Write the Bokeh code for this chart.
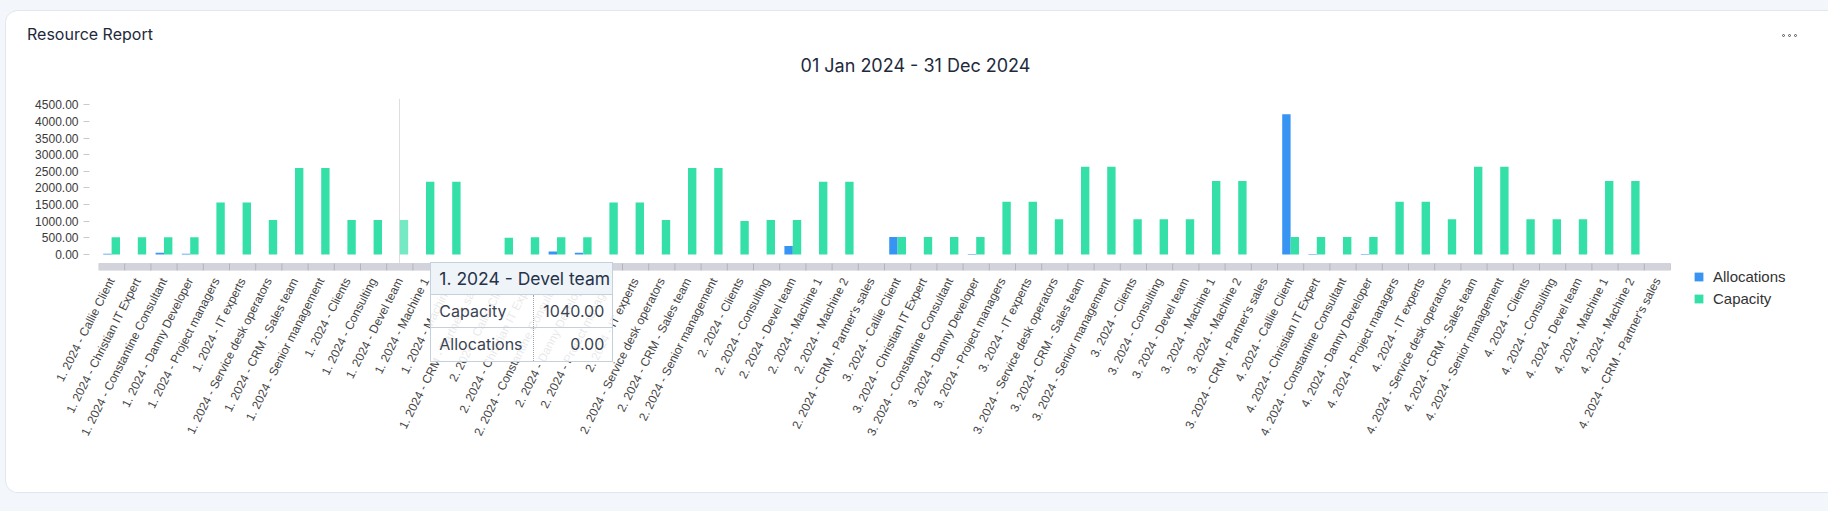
from bokeh.plotting import figure
from bokeh.models import (ColumnDataSource, FactorRange, Range1d, CategoricalAxis, Column, Div,
                          FixedTicker, NumeralTickFormatter, Legend, LegendItem)
from bokeh.transform import dodge
from bokeh.embed import file_html
from bokeh.resources import INLINE

# ---------------- data ----------------
report_title = "Resource Report"
period_label = "01 Jan 2024 - 31 Dec 2024"
quarters = ["1. 2024", "2. 2024", "3. 2024", "4. 2024"]
resources = ["Callie Client", "Christian IT Expert", "Constantine Consultant", "Danny Developer",
             "Project managers", "IT experts", "Service desk operators", "CRM - Sales team",
             "Senior management", "Clients", "Consulting", "Devel team", "Machine 1", "Machine 2",
             "CRM - Partner's sales"]
categories = [f"{q} - {r}" for q in quarters for r in resources]

capacity_q1 = [520, 520, 520, 520, 1560, 1560, 1040, 2600, 2600, 1040, 1040, 1040, 2184, 2184, 0]
capacity_q2 = [500, 520, 520, 520, 1560, 1560, 1040, 2600, 2600, 1010, 1040, 1040, 2184, 2184, 0]
capacity_q3 = [528, 528, 528, 528, 1584, 1584, 1056, 2640, 2640, 1056, 1056, 1056, 2208, 2208, 0]
capacity_q4 = [528, 528, 528, 528, 1584, 1584, 1056, 2640, 2640, 1056, 1056, 1056, 2208, 2208, 0]
allocations_q1 = [24, 0, 56, 24, 0, 0, 0, 0, 0, 0, 0, 0, 0, 0, 0]
allocations_q2 = [0, 0, 88, 56, 0, 0, 0, 0, 0, 0, 0, 256, 0, 0, 0]
allocations_q3 = [528, 0, 0, 16, 0, 0, 0, 0, 0, 0, 0, 0, 0, 0, 0]
allocations_q4 = [4216, 16, 0, 16, 0, 0, 0, 0, 0, 0, 0, 0, 0, 0, 0]
capacity = capacity_q1 + capacity_q2 + capacity_q3 + capacity_q4
allocations = allocations_q1 + allocations_q2 + allocations_q3 + allocations_q4

series = ["Allocations", "Capacity"]
y_ticks = [0, 500, 1000, 1500, 2000, 2500, 3000, 3500, 4000, 4500]
hover_category = "1. 2024 - Devel team"

# ---------------- styling ----------------
BLUE = "#3894f3"
GREEN = "#35e0a8"
GREEN_HOVER = "#74e9c4"
BAND = "#d3d3dc"
BAND_SEP = "#b3b3be"
AXIS_FONT = "Liberation Sans"
UI_FONT = "Inter"

W, H = 1809, 481
FL, FT = 92, 87                 # frame left / top inside the card
FW, FH = 1572, 172
n = len(categories)
Y0, Y1 = -481, 4689
uy = (Y1 - Y0) / FH             # data units per pixel (vertical)
BAND_TOP = -9 * uy              # grey strip starts 9px under the zero line

cap_colors = [GREEN_HOVER if c == hover_category else GREEN for c in categories]
src = ColumnDataSource(dict(category=categories, alloc=allocations, cap=capacity, cap_color=cap_colors))

p = figure(x_range=FactorRange(factors=categories, range_padding=0), y_range=Range1d(Y0, Y1),
           frame_width=FW, frame_height=FH,
           min_border_left=FL, min_border_right=W - FL - FW, min_border_top=FT,
           min_border_bottom=H - FT - FH,
           output_backend="svg", toolbar_location=None, x_axis_location=None, title=None)
p.styles = {"border-radius": "12px", "overflow": "hidden",
            "box-shadow": "0 0 0 1px #e1e7ef, 0 0 0 40px #f3f7fb"}
p.background_fill_color = "white"
p.border_fill_color = "white"
p.outline_line_color = None
p.xgrid.grid_line_color = None
p.ygrid.grid_line_color = None

# y axis
yax = p.yaxis[0]
yax.ticker = FixedTicker(ticks=y_ticks)
yax.formatter = NumeralTickFormatter(format="0.00")
yax.axis_line_color = None
yax.major_tick_line_color = "#c9c9c9"
yax.major_tick_in = -9
yax.major_tick_out = 15
yax.minor_tick_line_color = None
yax.major_label_standoff = 5
yax.major_label_text_font = AXIS_FONT
yax.major_label_text_font_size = "12px"
yax.major_label_text_color = "#3a3a3a"

xax = CategoricalAxis(axis_line_color=None, major_tick_line_color=None,
                      major_label_orientation=1.1, major_label_standoff=2,
                      major_label_text_font=AXIS_FONT, major_label_text_font_size="12px",
                      major_label_text_color="#444444")
p.add_layout(xax, "below")

# crosshair
p.vspan(x=[hover_category], line_color="#dedede", line_width=1)

# grey strip with separators between categories
p.vbar(x="category", top=BAND_TOP, bottom=Y0, width=1.0, source=src,
       fill_color=BAND, line_color=BAND)
p.segment(x0=dodge("category", 0.5, range=p.x_range), y0=BAND_TOP,
          x1=dodge("category", 0.5, range=p.x_range), y1=Y0, source=src,
          line_color=BAND_SEP, line_width=1)

# bars
r_alloc = p.vbar(x=dodge("category", -0.16, range=p.x_range), top="alloc", width=0.32,
                 source=src, fill_color=BLUE, line_color=None)
r_cap = p.vbar(x=dodge("category", 0.16, range=p.x_range), top="cap", width=0.32,
               source=src, fill_color="cap_color", line_color=None)

legend = Legend(items=[LegendItem(label=series[0], renderers=[r_alloc]),
                       LegendItem(label=series[1], renderers=[r_cap], index=0)],
                location=(23, -38), orientation="vertical",
                glyph_width=11, glyph_height=11, label_height=20, label_standoff=9,
                spacing=2, padding=0, margin=0, border_line_color=None,
                background_fill_alpha=0, label_text_font=AXIS_FONT,
                label_text_font_size="15px", label_text_color="#333333")
p.add_layout(legend, "right")

# ---------------- overlay: card header texts and hover tooltip (HTML) ----------------
h = categories.index(hover_category)
hx = FL + FW / n * (h + 0.5)     # pixel centre of the hovered category
zy = FT + Y1 / uy                # pixel row of the zero line
tip_left, tip_top = hx + 26, zy + 8
TT_LINE = "#c3d0dd"

dot = ("display:inline-block;width:3px;height:3px;border:1.5px solid #555;"
       "border-radius:50%;margin-right:3px;")
cell_l = (f"width:103px;box-sizing:border-box;padding-left:8px;"
          f"border-right:1px dotted #9aa4b0;")
cell_r = "flex:1;text-align:right;padding-right:8px;"
rows_html = ""
row_defs = [(series[1], capacity[h], True), (series[0], allocations[h], False)]
for name, val, line in row_defs:
    bb = f"border-bottom:1px solid {TT_LINE};" if line else ""
    rows_html += (f'<div style="display:flex;height:33px;line-height:33px;box-sizing:border-box;{bb}">'
                  f'<div style="{cell_l}">{name}</div><div style="{cell_r}">{val:.2f}</div></div>')

html = f"""
<div style="position:relative;width:{W}px;height:{H}px;font-family:{UI_FONT};">
  <div style="position:absolute;left:16px;top:12px;line-height:22px;font-size:16px;color:#1e293b;white-space:nowrap;">{report_title}</div>
  <div style="position:absolute;left:0px;top:43px;width:{W}px;text-align:center;line-height:24px;font-size:18px;color:#1e2a3c;white-space:nowrap;">{period_label}</div>
  <div style="position:absolute;left:1771px;top:19px;line-height:6px;white-space:nowrap;"><span style="{dot}"></span><span style="{dot}"></span><span style="{dot}"></span></div>
  <div style="position:absolute;left:{tip_left:.1f}px;top:{tip_top:.1f}px;width:183px;border:1px solid {TT_LINE};background:rgba(255,255,255,0.88);color:#3a4352;font-size:16px;white-space:nowrap;">
    <div style="height:32px;line-height:32px;box-sizing:border-box;padding-left:8px;background:rgba(238,243,249,0.95);font-size:17.5px;color:#26324a;border-bottom:1px solid {TT_LINE};">{hover_category}</div>
    {rows_html}
  </div>
</div>
"""
ov = Div(text=html, width=W, height=H,
         styles={"margin-top": f"-{H}px", "pointer-events": "none", "overflow": "visible"})

page = Column(children=[p, ov], spacing=0)
page.styles = {"margin-top": "11px", "margin-left": "6px"}

open("out.html", "w").write(file_html(page, INLINE))
